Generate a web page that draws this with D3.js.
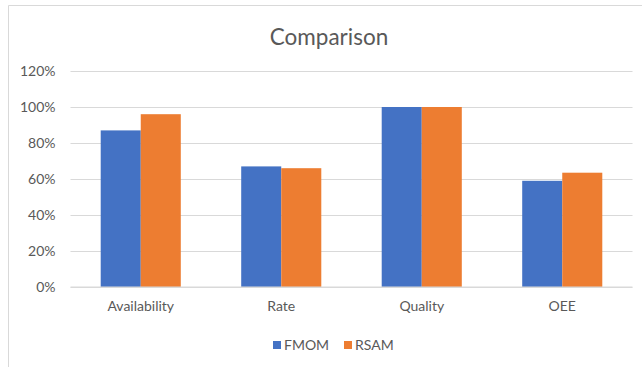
<!DOCTYPE html>
<html>
<head>
<meta charset="utf-8">
<script src="https://cdn.jsdelivr.net/npm/d3@7"></script>
<style>
  html, body { margin: 0; padding: 0; background: #fff; }
  svg { display: block; }
  text { font-family: Lato, "Open Sans", sans-serif; fill: #595959; }
</style>
</head>
<body>
<svg id="chart" width="642" height="367"></svg>
<script>
// Chart data
const title = "Comparison";
const categories = ["Availability", "Rate", "Quality", "OEE"];
const seriesNames = ["FMOM", "RSAM"];
const fmomValues = [0.87, 0.67, 1.00, 0.59];
const rsamValues = [0.96, 0.66, 1.00, 0.635];
const yTicks = [0, 0.2, 0.4, 0.6, 0.8, 1.0, 1.2];
const seriesColors = ["#4472C4", "#ED7D31"];

const seriesValues = [fmomValues, rsamValues];

const svg = d3.select("#chart");
const W = 642, H = 367;
const plot = { left: 70.5, right: 632.5, top: 71, bottom: 287 };
const labelSize = "14px";

// Chart frame
svg.append("path")
  .attr("d", `M8.5,${H} V5.5 H${W}`)
  .attr("fill", "none")
  .attr("stroke", "#d9d9d9")
  .attr("stroke-width", 1);

// Title
svg.append("text")
  .attr("x", 329)
  .attr("y", 45)
  .attr("text-anchor", "middle")
  .style("font-size", "22.5px")
  .style("fill", "#595959")
  .text(title);

const x = d3.scaleBand()
  .domain(categories)
  .range([plot.left, plot.right])
  .paddingInner(0.43)
  .paddingOuter(0.215);

const xs = d3.scaleBand()
  .domain(seriesNames)
  .range([0, x.bandwidth()]);

const y = d3.scaleLinear()
  .domain([0, 1.2])
  .range([plot.bottom, plot.top]);

// Gridlines and y labels
const yAxis = d3.axisLeft(y)
  .tickValues(yTicks)
  .tickFormat(d3.format(".0%"))
  .tickSize(-(plot.right - plot.left))
  .tickPadding(15);

const gy = svg.append("g")
  .attr("transform", `translate(${plot.left},0)`)
  .call(yAxis);
gy.select(".domain").remove();
gy.selectAll(".tick line")
  .attr("stroke", "#d9d9d9")
  .attr("stroke-width", 1.2);
gy.selectAll(".tick text")
  .style("font-size", labelSize)
  .style("fill", "#595959")
  .attr("dy", "0.34em");

// Bars
const groups = svg.append("g")
  .selectAll("g")
  .data(categories)
  .join("g")
  .attr("transform", d => `translate(${x(d)},0)`);

groups.selectAll("rect")
  .data((c, i) => seriesNames.map((s, j) => ({ s, v: seriesValues[j][i], j })))
  .join("rect")
  .attr("x", d => xs(d.s))
  .attr("width", xs.bandwidth())
  .attr("y", d => y(d.v))
  .attr("height", d => y(0) - y(d.v))
  .attr("fill", d => seriesColors[d.j]);

// Category labels
const xAxis = d3.axisBottom(x).tickSize(0).tickPadding(14);
const gx = svg.append("g")
  .attr("transform", `translate(0,${plot.bottom})`)
  .call(xAxis);
gx.select(".domain")
  .attr("stroke", "#d9d9d9")
  .attr("stroke-width", 1.2)
  .attr("d", `M${plot.left},0H${plot.right}`);
gx.selectAll(".tick text")
  .style("font-size", labelSize)
  .style("fill", "#595959");

// Legend
const legendItems = [
  { name: seriesNames[0], color: seriesColors[0], x: 273 },
  { name: seriesNames[1], color: seriesColors[1], x: 344 }
];
const lg = svg.append("g").selectAll("g")
  .data(legendItems)
  .join("g")
  .attr("transform", d => `translate(${d.x},341)`);
lg.append("rect")
  .attr("width", 8)
  .attr("height", 8)
  .attr("fill", d => d.color);
lg.append("text")
  .attr("x", 11)
  .attr("y", 4)
  .attr("dy", "0.35em")
  .style("font-size", labelSize)
  .text(d => d.name);
</script>
</body>
</html>
